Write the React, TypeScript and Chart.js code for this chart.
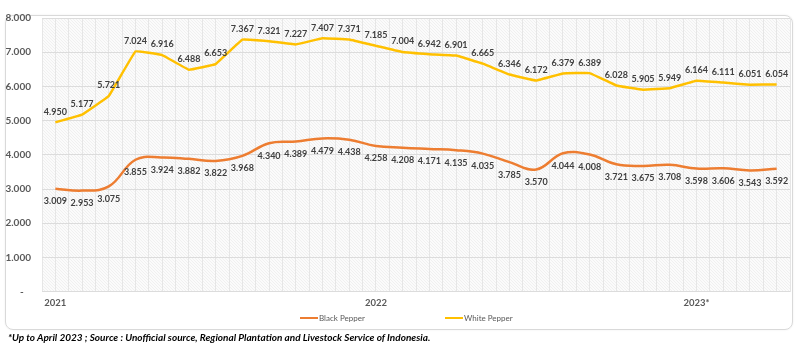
import React, { useEffect, useRef } from "react";
import { Chart, registerables } from "chart.js";

Chart.register(...registerables);

const months = [
  "Jan 2021", "Feb 2021", "Mar 2021", "Apr 2021", "May 2021", "Jun 2021",
  "Jul 2021", "Aug 2021", "Sep 2021", "Oct 2021", "Nov 2021", "Dec 2021",
  "Jan 2022", "Feb 2022", "Mar 2022", "Apr 2022", "May 2022", "Jun 2022",
  "Jul 2022", "Aug 2022", "Sep 2022", "Oct 2022", "Nov 2022", "Dec 2022",
  "Jan 2023", "Feb 2023", "Mar 2023", "Apr 2023",
];

const blackPepper = [
  3009, 2953, 3075, 3855, 3924, 3882, 3822, 3968, 4340, 4389, 4479, 4438,
  4258, 4208, 4171, 4135, 4035, 3785, 3570, 4044, 4008, 3721, 3675, 3708,
  3598, 3606, 3543, 3592,
];

const whitePepper = [
  4950, 5177, 5721, 7024, 6916, 6488, 6653, 7367, 7321, 7227, 7407, 7371,
  7185, 7004, 6942, 6901, 6665, 6346, 6172, 6379, 6389, 6028, 5905, 5949,
  6164, 6111, 6051, 6054,
];

const yearTicks: { [k: number]: string } = { 0: "2021", 12: "2022", 24: "2023*" };
const yTickValues = [0, 1000, 2000, 3000, 4000, 5000, 6000, 7000, 8000];

const BLACK_COLOR = "#ED7D31";
const WHITE_COLOR = "#FFC000";
const FONT = "Lato, 'Open Sans', sans-serif";

function fmt(v: number): string {
  return Math.round(v).toString().replace(/\B(?=(\d{3})+(?!\d))/g, ".");
}

export default function App() {
  const canvasRef = useRef<HTMLCanvasElement | null>(null);

  useEffect(() => {
    const canvas = canvasRef.current;
    if (!canvas) return;

    const pc = document.createElement("canvas");
    pc.width = 3;
    pc.height = 3;
    const pctx = pc.getContext("2d")!;
    pctx.fillStyle = "#fbfbfb";
    pctx.fillRect(0, 0, 3, 3);
    pctx.fillStyle = "rgba(0,0,0,0.045)";
    pctx.fillRect(0, 0, 1, 1);
    pctx.fillRect(1, 1, 1, 1);
    pctx.fillRect(2, 2, 1, 1);

    const bgPlugin = {
      id: "hatchBg",
      beforeDraw(chart: any) {
        const { ctx, chartArea } = chart;
        const pat = ctx.createPattern(pc, "repeat");
        ctx.save();
        ctx.fillStyle = pat;
        ctx.fillRect(chartArea.left, chartArea.top, chartArea.right - chartArea.left, chartArea.bottom - chartArea.top);
        ctx.restore();
      },
    };

    const labelPlugin = {
      id: "valueLabels",
      afterDatasetsDraw(chart: any) {
        const ctx = chart.ctx;
        ctx.save();
        ctx.font = `bold 9px ${FONT}`;
        ctx.fillStyle = "#404040";
        ctx.textAlign = "center";
        ctx.textBaseline = "middle";
        chart.data.datasets.forEach((ds: any, i: number) => {
          const meta = chart.getDatasetMeta(i);
          const off = ds.label === "White Pepper" ? -10.5 : 12.5;
          meta.data.forEach((pt: any, j: number) => {
            ctx.fillText(fmt(ds.data[j].y), pt.x, pt.y + off);
          });
        });
        ctx.restore();
      },
    };

    const chart = new Chart(canvas, {
      type: "line",
      data: {
        datasets: [
          {
            label: "Black Pepper",
            data: blackPepper.map((v, i) => ({ x: i, y: v })),
            borderColor: BLACK_COLOR,
            backgroundColor: BLACK_COLOR,
            borderWidth: 2.5,
            pointRadius: 0,
            tension: 0.4,
          },
          {
            label: "White Pepper",
            data: whitePepper.map((v, i) => ({ x: i, y: v })),
            borderColor: WHITE_COLOR,
            backgroundColor: WHITE_COLOR,
            borderWidth: 2.5,
            pointRadius: 0,
            tension: 0.05,
          },
        ],
      },
      options: {
        animation: false,
        responsive: false,
        maintainAspectRatio: false,
        layout: { padding: { left: 0, right: 10, top: 18, bottom: 15 } },
        plugins: {
          legend: { display: false },
          tooltip: { enabled: false },
        },
        scales: {
          x: {
            type: "linear",
            min: -0.5,
            max: months.length - 0.5,
            afterBuildTicks(scale: any) {
              const t = [];
              for (let v = -0.5; v <= months.length - 0.5 + 1e-9; v += 0.5) t.push({ value: v });
              scale.ticks = t;
            },
            ticks: {
              autoSkip: false,
              maxRotation: 0,
              padding: 6,
              color: "#595959",
              font: { family: FONT, size: 9.5, weight: "bold" },
              callback: (v: any) => yearTicks[v as number] ?? "",
            },
            grid: { color: "#e6e6e6", lineWidth: 1, drawTicks: false },
            border: { display: false },
          },
          y: {
            min: 0,
            max: 8000,
            afterBuildTicks(scale: any) {
              scale.ticks = yTickValues.map((v) => ({ value: v }));
            },
            afterFit(scale: any) {
              scale.width = 42;
            },
            ticks: {
              padding: 11,
              color: "#595959",
              font: { family: FONT, size: 10, weight: "bold" },
              callback: (v: any) => (v === 0 ? "-   " : fmt(v as number)),
            },
            grid: { color: "#dcdcdc", lineWidth: 1, drawTicks: false },
            border: { display: false },
          },
        },
      },
      plugins: [bgPlugin, labelPlugin],
    });

    return () => chart.destroy();
  }, []);

  return (
    <div style={{ position: "absolute", left: 0, top: 0, width: 800, height: 364, background: "#fff", overflow: "hidden" }}>
      <div
        style={{
          position: "absolute",
          left: 5,
          top: 15,
          width: 786,
          height: 313,
          border: "1px solid #d9d9d9",
          borderRadius: 8,
          boxShadow: "0 0 2px rgba(0,0,0,0.08)",
        }}
      />
      <canvas ref={canvasRef} width={800} height={330} style={{ position: "absolute", left: 0, top: 0, width: 800, height: 330 }} />
      <div style={{ position: "absolute", top: 313, left: 300, display: "flex", alignItems: "center", fontFamily: FONT, fontSize: 8, color: "#595959" }}>
        <span style={{ display: "inline-block", width: 18, height: 2.5, background: BLACK_COLOR, marginRight: 1 }} />
        <span>Black Pepper</span>
      </div>
      <div style={{ position: "absolute", top: 313, left: 445, display: "flex", alignItems: "center", fontFamily: FONT, fontSize: 8, color: "#595959" }}>
        <span style={{ display: "inline-block", width: 18, height: 2.5, background: WHITE_COLOR, marginRight: 1 }} />
        <span>White Pepper</span>
      </div>
      <div
        style={{
          position: "absolute",
          top: 331,
          left: 8,
          fontFamily: FONT,
          fontSize: 10,
          fontWeight: "bold",
          fontStyle: "italic",
          color: "#000",
          whiteSpace: "nowrap",
        }}
      >
        *Up to April 2023 ; Source : Unofficial source, Regional Plantation and Livestock Service of Indonesia.
      </div>
    </div>
  );
}
